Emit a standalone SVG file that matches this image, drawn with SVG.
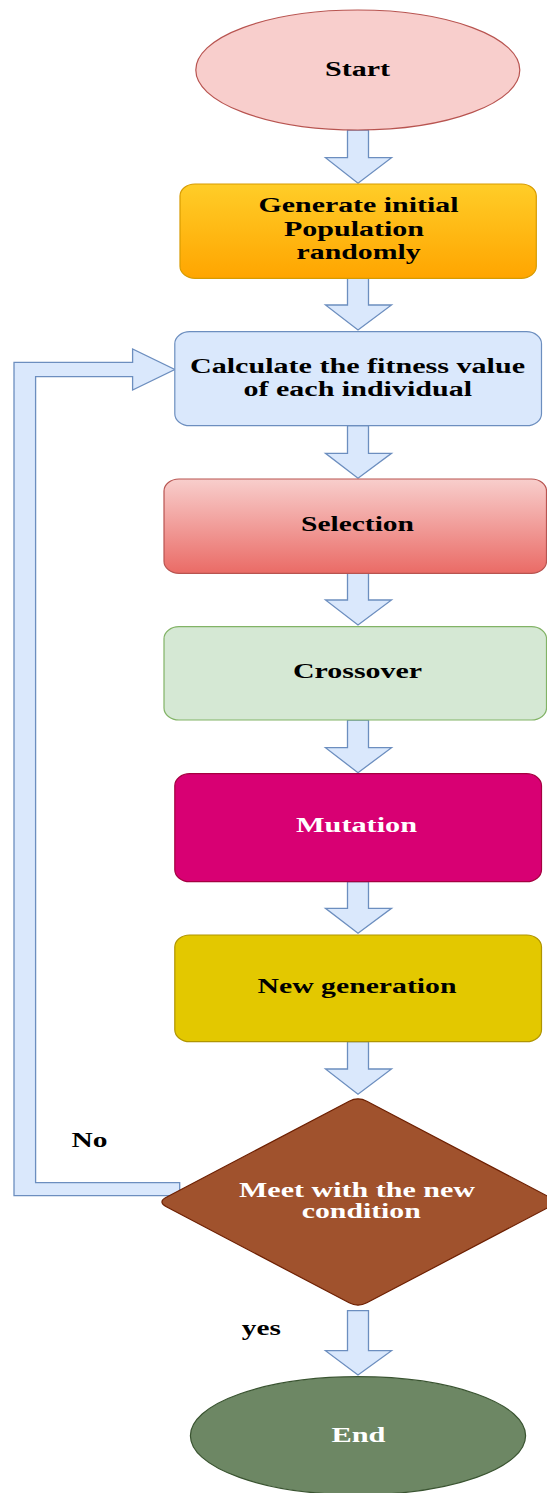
<svg xmlns="http://www.w3.org/2000/svg" width="547" height="1493" viewBox="0 0 547 1493">
<style>
.t{font-family:"Liberation Serif","Times New Roman",serif;font-weight:bold;font-size:20px;fill:#000}
.w{fill:#fff}
.arr{fill:#dae8fc;stroke:#6c8ebf;stroke-width:1.3}
</style>
<defs>
<linearGradient id="gY" x1="0" y1="0" x2="0" y2="1"><stop offset="0" stop-color="#ffcd28"/><stop offset="1" stop-color="#ffa500"/></linearGradient>
<linearGradient id="gR" x1="0" y1="0" x2="0" y2="1"><stop offset="0" stop-color="#f8cecc"/><stop offset="1" stop-color="#ea6b66"/></linearGradient>
</defs>
<rect width="547" height="1493" fill="#fff"/>
<g id="connectors">
<polygon class="arr" points="347.5,130 368.5,130 368.5,157.7 391.5,157.7 358,183.3 325.5,157.7 347.5,157.7"/>
<polygon class="arr" points="347.5,278.3 368.5,278.3 368.5,305 391.5,305 358,330 325.5,305 347.5,305"/>
<polygon class="arr" points="347.5,425.7 368.5,425.7 368.5,453.3 391.5,453.3 358,478.3 325.5,453.3 347.5,453.3"/>
<polygon class="arr" points="347.5,573.3 368.5,573.3 368.5,600 391.5,600 358,625 325.5,600 347.5,600"/>
<polygon class="arr" points="347.5,720 368.5,720 368.5,747.7 391.5,747.7 358,772.7 325.5,747.7 347.5,747.7"/>
<polygon class="arr" points="347.5,881.7 368.5,881.7 368.5,908.3 391.5,908.3 358,933.3 325.5,908.3 347.5,908.3"/>
<polygon class="arr" points="347.5,1041.7 368.5,1041.7 368.5,1069 391.5,1069 358,1094.3 325.5,1069 347.5,1069"/>
<polygon class="arr" points="347.5,1310.7 368.5,1310.7 368.5,1350.7 391.5,1350.7 358,1375 325.5,1350.7 347.5,1350.7"/>
<polygon class="arr" points="179.7,1182.7 35.6,1182.7 35.6,376.7 132.6,376.7 132.6,390 174.8,369.5 132.6,349 132.6,362.3 14,362.3 14,1195.7 179.7,1195.7"/>
<text class="t" x="71.5" y="1146.7" textLength="36" lengthAdjust="spacingAndGlyphs">No</text>
<text class="t" x="241.8" y="1335" textLength="39" lengthAdjust="spacingAndGlyphs">yes</text>
</g>
<g id="start">
<ellipse cx="357.8" cy="70" rx="162" ry="60" fill="#f8cecc" stroke="#b85450" stroke-width="1.2"/>
<text class="t" x="325" y="76" textLength="65" lengthAdjust="spacingAndGlyphs">Start</text>
</g>
<g id="generate">
<rect x="180" y="184" width="356.3" height="94.3" rx="15" ry="12" fill="url(#gY)" stroke="#d79b00" stroke-width="1.2"/>
<text class="t" x="258.5" y="212.3" textLength="200" lengthAdjust="spacingAndGlyphs">Generate initial</text>
<text class="t" x="284" y="235.7" textLength="140" lengthAdjust="spacingAndGlyphs">Population</text>
<text class="t" x="296.6" y="259" textLength="124" lengthAdjust="spacingAndGlyphs">randomly</text>
</g>
<g id="fitness">
<rect x="174.8" y="331.7" width="366.7" height="94" rx="15" ry="12" fill="#dae8fc" stroke="#6c8ebf" stroke-width="1.2"/>
<text class="t" x="190" y="372.7" textLength="335" lengthAdjust="spacingAndGlyphs">Calculate the fitness value</text>
<text class="t" x="243.5" y="395.7" textLength="228.5" lengthAdjust="spacingAndGlyphs">of each individual</text>
</g>
<g id="selection">
<rect x="164" y="479" width="382.5" height="94.3" rx="15" ry="12" fill="url(#gR)" stroke="#b85450" stroke-width="1.2"/>
<text class="t" x="301" y="531" textLength="113" lengthAdjust="spacingAndGlyphs">Selection</text>
</g>
<g id="crossover">
<rect x="164" y="626.7" width="382.5" height="93.3" rx="15" ry="12" fill="#d5e8d4" stroke="#82b366" stroke-width="1.2"/>
<text class="t" x="293" y="678.3" textLength="129" lengthAdjust="spacingAndGlyphs">Crossover</text>
</g>
<g id="mutation">
<rect x="174.8" y="773.7" width="366.7" height="108" rx="15" ry="12" fill="#d80073" stroke="#a50040" stroke-width="1.2"/>
<text class="t w" x="296" y="831.7" textLength="121" lengthAdjust="spacingAndGlyphs">Mutation</text>
</g>
<g id="newgen">
<rect x="174.8" y="935" width="366.7" height="106.7" rx="15" ry="12" fill="#e3c800" stroke="#b09500" stroke-width="1.2"/>
<text class="t" x="257.5" y="993.3" textLength="199" lengthAdjust="spacingAndGlyphs">New generation</text>
</g>
<g id="condition">
<path d="M349.15,1101.16 Q358,1096.5 366.85,1101.16 L549.65,1197.34 Q558.5,1202 549.65,1206.66 L366.85,1302.84 Q358,1307.5 349.15,1302.84 L166.35,1206.66 Q157.5,1202 166.35,1197.34 Z" fill="#a0522d" stroke="#6d1f00" stroke-width="1.2"/>
<text class="t w" x="239" y="1197" textLength="236" lengthAdjust="spacingAndGlyphs">Meet with the new</text>
<text class="t w" x="301.8" y="1218.3" textLength="119" lengthAdjust="spacingAndGlyphs">condition</text>
</g>
<g id="end">
<ellipse cx="358" cy="1435.7" rx="167.6" ry="59" fill="#6d8764" stroke="#3a5431" stroke-width="1.2"/>
<text class="t w" x="331.5" y="1441.7" textLength="54" lengthAdjust="spacingAndGlyphs">End</text>
</g>
</svg>
